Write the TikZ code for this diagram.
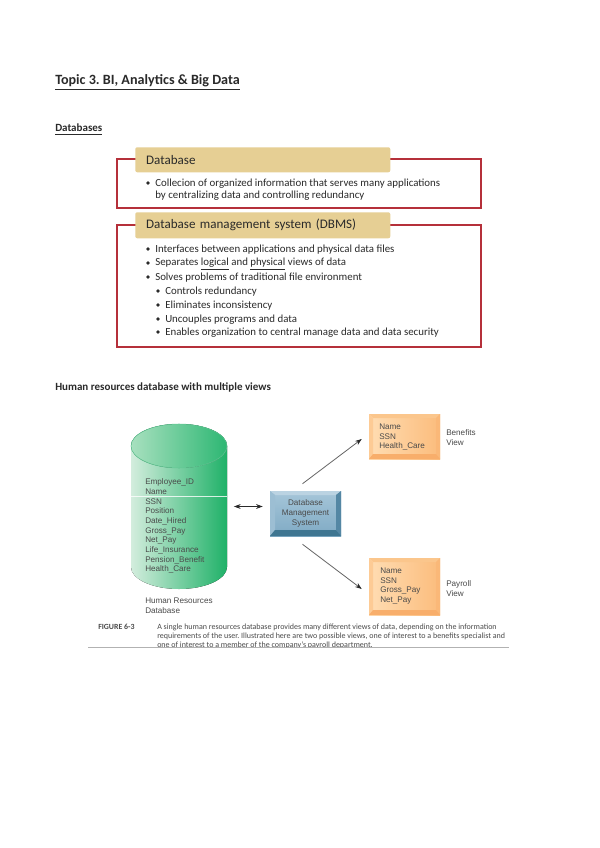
\documentclass[tikz,border=0pt]{standalone}
\usepackage{fontspec}
\setmainfont{Carlito}
\newfontfamily\helv{Liberation Sans}
\newfontfamily\tabfont[WordSpace=0.6]{Carlito}
\usetikzlibrary{arrows.meta,shadings}
\definecolor{tabfill}{HTML}{E6CF94}
\definecolor{redline}{HTML}{B5303A}
\definecolor{inktext}{HTML}{2A2A2A}
\definecolor{figtext}{HTML}{4A4A4A}
\definecolor{dbmsfaceA}{HTML}{A6C6D9}
\definecolor{dbmsfaceB}{HTML}{7FAAC4}
\definecolor{dbmstop}{HTML}{BBD3E2}
\definecolor{dbmsleft}{HTML}{9CBED3}
\definecolor{dbmsright}{HTML}{5487A4}
\definecolor{dbmsbot}{HTML}{3F7691}
\definecolor{viewfaceA}{HTML}{FFDDB3}
\definecolor{viewfaceB}{HTML}{FBBC7C}
\definecolor{viewtop}{HTML}{FBC68C}
\definecolor{viewside}{HTML}{FDCB95}
\definecolor{viewright}{HTML}{FAB878}
\definecolor{viewbot}{HTML}{F8AE6B}
\definecolor{cylleft}{HTML}{D3EDDD}
\definecolor{cylmid}{HTML}{80D3A4}
\definecolor{cylright}{HTML}{1FB168}
\definecolor{capleft}{HTML}{A8E0BF}
\definecolor{capmid}{HTML}{6FCB97}
\definecolor{capright}{HTML}{2DB773}
\tikzset{
 x=0.75pt,y=-0.75pt,
 redframe/.style={draw=redline,line width=0.8pt},
 tabbox/.style={fill=tabfill,rounded corners=1.5pt,anchor=north west,text width=191.25pt,align=left,inner sep=0pt,text=inktext,font=\tabfont\fontsize{9.8}{10}\selectfont},
 bodytxt/.style={anchor=west,inner sep=0pt,text=inktext,font=\fontsize{8.15}{10}\selectfont},
 dot/.style={circle,fill=inktext,inner sep=0pt,minimum size=2.8pt},
 figlabel/.style={anchor=north west,inner sep=0pt,align=left,text=figtext,font=\helv\fontsize{6.1}{7.4}\selectfont},
 fieldlist/.style={figlabel,font=\helv\fontsize{6.1}{7.24}\selectfont},
 capt/.style={anchor=west,inner sep=0pt,text=figtext,font=\fontsize{6.0}{7}\selectfont},
 headtxt/.style={anchor=base west,inner sep=0pt,text=inktext,font=\bfseries\fontsize{8.25}{9}\selectfont},
 arr/.style={draw=figtext!85,line width=0.6pt,-{Stealth[length=5pt,width=3.6pt,color=inktext]}},
 arrtwo/.style={draw=inktext,line width=0.5pt,{Stealth[length=5pt,width=3.6pt]}-{Stealth[length=5pt,width=3.6pt]}},
}
\begin{document}
\frenchspacing
\begin{tikzpicture}
\useasboundingbox (0,0) rectangle (599,848);
\fill[white] (0,0) rectangle (599,848);
% headings
\node[anchor=base west,inner sep=0pt,text=inktext,font=\bfseries\fontsize{10.6}{12}\selectfont] (title) at (55,85) {\underline{Topic 3. BI, Analytics \& Big Data}};
\node[headtxt] (dbhead) at (55,132) {\underline{Databases}};
\node[headtxt] (hrhead) at (55,390) {Human resources database with multiple views};
% Database box
\draw[redframe] (117,159) rectangle (481,208);
\node[tabbox,minimum height=18.75pt] (tabone) at (135,147) {\hspace*{8.2pt}Database};
\node[dot] (b1) at (148,183) {};
\node[bodytxt] (t1) at (155,184) {Collecion of organized information that serves many applications};
\node[bodytxt] (t1b) at (155,196) {by centralizing data and controlling redundancy};
% DBMS box
\draw[redframe] (117,225) rectangle (481,347);
\node[tabbox,minimum height=19.5pt] (tabtwo) at (135,212) {\hspace*{8.2pt}Database management system (DBMS)};
\node[dot] (b2) at (148,249) {};
\node[bodytxt] (t2) at (155,250) {Interfaces between applications and physical data files};
\node[dot] (b3) at (148,263) {};
\node[bodytxt] (t3) at (155,264) {Separates \underline{logical} and \underline{physical} views of data};
\node[dot] (b4) at (148,277) {};
\node[bodytxt] (t4) at (155,278) {Solves problems of traditional file environment};
\node[dot] (b5) at (158,291) {};
\node[bodytxt] (t5) at (165,292) {Controls redundancy};
\node[dot] (b6) at (158,305) {};
\node[bodytxt] (t6) at (165,306) {Eliminates inconsistency};
\node[dot] (b7) at (158,319) {};
\node[bodytxt] (t7) at (165,320) {Uncouples programs and data};
\node[dot] (b8) at (158,332) {};
\node[bodytxt] (t8) at (165,333) {Enables organization to central manage data and data security};
% cylinder
\fill[left color=cylleft,middle color=cylmid,right color=cylright]
  (131,446) -- (131,567) arc[start angle=180,end angle=0,x radius=48,y radius=22] -- (227,446) arc[start angle=0,end angle=-180,x radius=48,y radius=22] -- cycle;
\fill[left color=capleft,middle color=capmid,right color=capright] (179,446) ellipse[x radius=48,y radius=22];
\draw[draw=cylright!70!white,line width=0.4pt] (179,446) ellipse[x radius=48,y radius=22];
\draw[white,line width=0.5pt,opacity=0.8] (131,496) -- (227,496);
\node[minimum width=72pt,minimum height=124pt,inner sep=0pt] (db) at (179,506.5) {};
\node[fieldlist] (fields) at (145,478.7) {Employee\_ID\\Name\\SSN\\Position\\Date\_Hired\\Gross\_Pay\\Net\_Pay\\Life\_Insurance\\Pension\_Benefit\\Health\_Care};
\node[figlabel] (dbname) at (145,597.5) {Human Resources\\Database};
% DBMS
\node[minimum width=53.25pt,minimum height=33.75pt,inner sep=0pt] (dbms) at (305.5,513.5) {};
\fill[top color=dbmsfaceA,bottom color=dbmsfaceB] (270,491) rectangle (341,536);
\fill[dbmstop] (270,491) -- (341,491) -- (336,495) -- (275,495) -- cycle;
\fill[dbmsleft] (270,491) -- (275,495) -- (275,530) -- (270,536) -- cycle;
\fill[dbmsright] (341,491) -- (336,495) -- (336,530) -- (341,536) -- cycle;
\fill[dbmsbot] (270,536) -- (275,530) -- (336,530) -- (341,536) -- cycle;
\node[figlabel,anchor=center,align=center,font=\helv\fontsize{6.1}{7.5}\selectfont] (dbmstxt) at (305.5,513) {Database\\Management\\System};
% views
\node[minimum width=53.25pt,minimum height=33.75pt,inner sep=0pt] (benefits) at (404.5,436.5) {};
\fill[left color=viewfaceA,right color=viewfaceB] (369,414) rectangle (440,459);
\fill[viewtop] (369,414) -- (440,414) -- (436,418) -- (373,418) -- cycle;
\fill[viewside] (369,414) -- (373,418) -- (373,454) -- (369,459) -- cycle;
\fill[viewright] (440,414) -- (436,418) -- (436,454) -- (440,459) -- cycle;
\fill[viewbot] (369,459) -- (373,454) -- (436,454) -- (440,459) -- cycle;
\node[fieldlist] (bentxt) at (379,423.7) {Name\\SSN\\Health\_Care};
\node[figlabel] (benlab) at (446,429.5) {Benefits\\View};
\node[minimum width=53.25pt,minimum height=42.75pt,inner sep=0pt] (payroll) at (404.5,586.5) {};
\fill[left color=viewfaceA,right color=viewfaceB] (369,558) rectangle (440,615);
\fill[viewtop] (369,558) -- (440,558) -- (436,562) -- (373,562) -- cycle;
\fill[viewside] (369,558) -- (373,562) -- (373,610) -- (369,615) -- cycle;
\fill[viewright] (440,558) -- (436,562) -- (436,610) -- (440,615) -- cycle;
\fill[viewbot] (369,615) -- (373,610) -- (436,610) -- (440,615) -- cycle;
\node[fieldlist] (paytxt) at (380,567.7) {Name\\SSN\\Gross\_Pay\\Net\_Pay};
\node[figlabel] (paylab) at (446,580.5) {Payroll\\View};
% connectors
\draw[arrtwo,shorten <=5pt,shorten >=5.25pt] (db.east) -- (dbms.west |- db.east);
\draw[arr] ([shift={(-3,-7)}]dbms.north) -- ([shift={(-7,2.5)}]benefits.west);
\draw[arr] ([shift={(-3,8)}]dbms.south) -- ([shift={(-7,2.5)}]payroll.west);
% caption
\node[capt,font=\bfseries\fontsize{5.9}{7}\selectfont] (figno) at (98,627) {FIGURE 6-3};
\node[capt] (c1) at (157,627) {A single human resources database provides many different views of data, depending on the information};
\node[capt] (c2) at (157,636) {requirements of the user. Illustrated here are two possible views, one of interest to a benefits specialist and};
\begin{scope}
\clip (80,640) rectangle (520,647);
\node[capt] (c3) at (157,645.5) {one of interest to a member of the company's payroll department.};
\end{scope}
\draw[draw=black!30,line width=0.7pt] (88,647) -- (509,647);
\end{tikzpicture}
\end{document}
